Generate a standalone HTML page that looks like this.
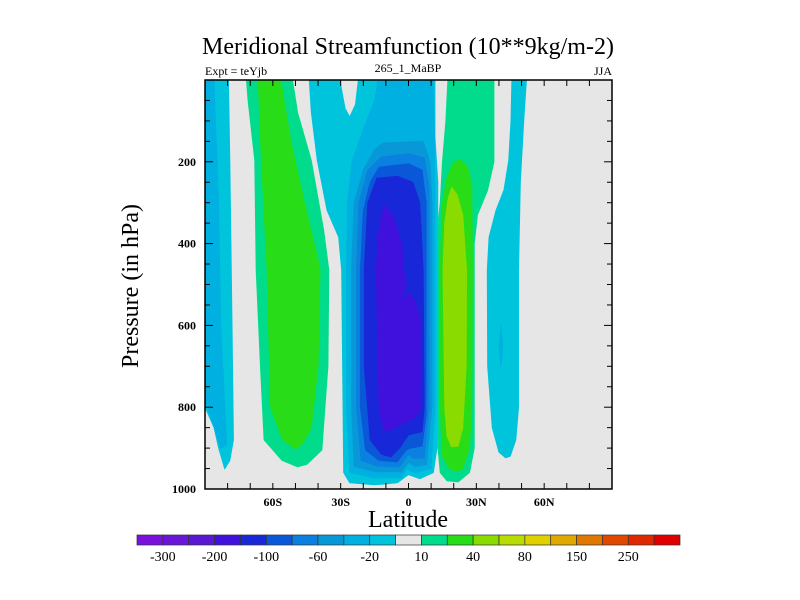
<!DOCTYPE html>
<html><head><meta charset="utf-8"><style>
html,body{margin:0;padding:0;background:#fff;}
svg{display:block;font-family:"Liberation Serif",serif;}
</style></head><body>
<svg id="chart" width="800" height="600" viewBox="0 0 800 600">
<text x="408" y="54" font-size="24" text-anchor="middle">Meridional Streamfunction (10**9kg/m-2)</text>
<text x="205" y="75" font-size="12">Expt = teYjb</text>
<text x="408" y="72" font-size="12" text-anchor="middle">265_1_MaBP</text>
<text x="612" y="75" font-size="12" text-anchor="end">JJA</text>
<text transform="translate(138,286) rotate(-90)" font-size="24" text-anchor="middle">Pressure (in hPa)</text>
<text x="408" y="527" font-size="24" text-anchor="middle">Latitude</text>
<g id="plot"></g>
<g id="axes"></g>
<g id="cbar"></g>
</svg>
<script>
const levelLabels = ["-300","-200","-100","-60","-20","10","40","80","150","250"];
const colorbarColors = ["#7a10dc","#6a16d8","#5a18d0","#4010dc","#1828d8","#0a58d8","#0a80e0","#0898d8","#00b0e0","#00c4dc","#e6e6e6","#00dc8c","#28dc18","#8adc00","#b8dc00","#e0d000","#e0a800","#e07800","#e04800","#e02800","#e00000"];
const xTicks = [-90,-80,-70,-60,-50,-40,-30,-20,-10,0,10,20,30,40,50,60,70,80,90];
const xTickLabels = {"-60":"60S","-30":"30S","0":"0","30":"30N","60":"60N"};
const yTicks = [50,100,150,200,250,300,350,400,450,500,550,600,650,700,750,800,850,900,950,1000];
const yTickLabels = [200,400,600,800,1000];
// contour regions: [colorbar index, [[lat, pressure], ...]]
const regionLevels = [9,8,11,12,9,8,7,6,5,4,3,11,12,13,9,8];
const regionA1 = [[-90,0],[-79.6,0],[-79,200],[-78,600],[-77.4,880],[-79,930],[-81.3,951],[-84,900],[-86,850],[-90,800]];
const regionA2 = [[-90,0],[-86,0],[-84,300],[-83,600],[-80.4,892],[-83,900],[-90,780]];
const regionB1 = [[-71.7,0],[-51.3,0],[-49,80],[-43,196],[-37.5,367],[-35.2,465],[-35.6,700],[-38.3,905],[-45,940],[-49.1,946],[-56,930],[-63.9,880],[-65.5,700],[-67.4,465],[-68,196],[-71,50]];
const regionB2 = [[-66.5,0],[-56.5,0],[-52,150],[-46,300],[-40,440],[-39.1,465],[-40,700],[-43,850],[-47,890],[-50,902],[-55.7,880],[-61,800],[-62.6,465],[-65,200]];
const regionC1 = [[-43.9,0],[-30.4,0],[-28,70],[-26,90],[-23.5,60],[-22.2,0],[11.7,0],[11.7,139],[13,250],[12.8,600],[12.6,900],[11,960],[5,975],[0,965],[-5,985],[-15,990],[-26,985],[-28.7,960],[-29.6,465],[-30.9,384],[-36.1,318],[-40.4,196],[-43,80]];
const regionC2 = [[-13.5,0],[10.9,0],[11.5,139],[11.7,250],[11.7,800],[10,950],[3,960],[-1,952],[-3,972],[-15,973],[-26,960],[-27.4,800],[-27.4,465],[-27,300],[-25,200],[-20,120],[-15,50]];
const regionC3 = [[-11.3,154],[6.5,150],[9.5,200],[10.4,300],[10.4,800],[8,940],[3,945],[0,935],[-3,958],[-15,958],[-24,945],[-25.2,800],[-25.2,465],[-24,300],[-20,220],[-15,170]];
const regionC4 = [[-12,188],[0,180],[7,190],[9.1,260],[9.1,800],[7,925],[2,925],[0,915],[-4,946],[-14,944],[-21,930],[-23,800],[-23,465],[-22,300],[-18,220]];
const regionC5 = [[-13,213],[0,205],[6,220],[7.8,300],[7.8,820],[6,895],[1,900],[-1,905],[-5,934],[-13,930],[-19,905],[-21.3,800],[-21.3,465],[-20,320],[-17,250]];
const regionC6 = [[-14,240],[-5,235],[2,250],[5,300],[6.5,465],[7,800],[6,860],[0,868],[-4,900],[-7.8,922],[-12,915],[-17,880],[-19.6,700],[-19.6,465],[-18,300]];
const regionC7 = [[-10.9,306],[-7,330],[-3,400],[-2.2,465],[-1,500],[-3,540],[0,520],[3,540],[5.2,587],[5.2,807],[2,830],[-3,840],[-9,860],[-11.3,848],[-13,800],[-14.3,465],[-13.5,380]];
const regionD1 = [[17.4,0],[37.8,0],[37.8,200],[35,270],[30.5,330],[29.1,400],[29.1,900],[27,960],[22,983],[17,980],[14,960],[13,900],[13,350],[14,300],[15,200],[16.5,100]];
const regionD2 = [[22.6,193],[26,210],[28,260],[28.3,465],[28,800],[27,900],[24,950],[21.7,958],[18,950],[15,920],[14,800],[13.9,465],[15,300],[17,240],[19.5,205]];
const regionD3 = [[19.1,262],[21.5,280],[24,330],[25.7,465],[25.5,700],[24,850],[22,895],[19,897],[17,870],[16,800],[15.2,465],[16,350],[17.5,290]];
const regionE1 = [[45.7,0],[52.2,0],[51,100],[49.5,250],[48.7,465],[48.7,800],[47.5,880],[45,920],[43,924],[40,910],[37,850],[35,700],[34.8,465],[35.6,384],[38.7,318],[42.2,269],[44.3,196],[45.3,100]];
const regionE2 = [[40.9,600],[41.8,650],[40.9,700],[40,650]];
const regions = [regionA1,regionA2,regionB1,regionB2,regionC1,regionC2,regionC3,regionC4,regionC5,regionC6,regionC7,regionD1,regionD2,regionD3,regionE1,regionE2];

const X0=205,X1=612,Y0=80,Y1=489;
const xs = lat => X0 + (lat+90)/180*(X1-X0);
const ys = p => Y0 + p/1000*(Y1-Y0);
const NS="http://www.w3.org/2000/svg";
function mk(tag, attrs, parent){const e=document.createElementNS(NS,tag);for(const k in attrs)e.setAttribute(k,attrs[k]);parent.appendChild(e);return e;}

const plot=document.getElementById('plot');
const bg=mk('rect',{x:X0,y:Y0,width:X1-X0,height:Y1-Y0,fill:'#e6e6e6'},plot);


const clip=mk('clipPath',{id:'pc'},plot);
mk('rect',{x:X0,y:Y0,width:X1-X0,height:Y1-Y0},clip);
const cg=mk('g',{'clip-path':'url(#pc)'},plot);
regions.forEach((r,i)=>{
  const pts=r.map(([la,p])=>xs(la).toFixed(1)+','+ys(p).toFixed(1)).join(' ');
  const poly=mk('polygon',{points:pts,fill:colorbarColors[regionLevels[i]],'stroke':colorbarColors[regionLevels[i]],'stroke-width':0.8,'stroke-linejoin':'round'},cg);
  
  
});

const axes=document.getElementById('axes');
const frame=mk('rect',{x:X0,y:Y0,width:X1-X0,height:Y1-Y0,fill:'none',stroke:'#000','stroke-width':1.5},axes);


xTicks.forEach(v=>{
  const x=xs(v);
  mk('line',{x1:x,y1:Y1,x2:x,y2:Y1-6,stroke:'#000','stroke-width':1},axes);
  mk('line',{x1:x,y1:Y0,x2:x,y2:Y0+6,stroke:'#000','stroke-width':1},axes);
  const lab=xTickLabels[String(v)];
  if(lab!==undefined){
    const t=mk('text',{x:x,y:Y1+17,'font-size':12,'font-weight':'bold','text-anchor':'middle'},axes);
    t.textContent=lab;
    
    
  }
});
yTicks.forEach(v=>{
  const y=ys(v);
  const major=yTickLabels.includes(v);
  const L=major?8:5;
  mk('line',{x1:X0,y1:y,x2:X0+L,y2:y,stroke:'#000','stroke-width':1},axes);
  mk('line',{x1:X1,y1:y,x2:X1-L,y2:y,stroke:'#000','stroke-width':1},axes);
});
yTickLabels.forEach(v=>{
  const t=mk('text',{x:X0-9,y:ys(v)+4,'font-size':12,'font-weight':'bold','text-anchor':'end'},axes);
  t.textContent=v;
  
  
});

const cb=document.getElementById('cbar');
const CB0=137,CB1=680,CBY=535,CBH=10;
const bw=(CB1-CB0)/colorbarColors.length;
colorbarColors.forEach((c,i)=>{
  const r=mk('rect',{x:CB0+i*bw,y:CBY,width:bw,height:CBH,fill:c,stroke:'#333','stroke-width':0.7},cb);
  
  
});
levelLabels.forEach((l,i)=>{
  const t=mk('text',{x:CB0+(2*i+1)*bw,y:561,'font-size':14,'text-anchor':'middle'},cb);
  t.textContent=l;
  
  
});
</script>
</body></html>
